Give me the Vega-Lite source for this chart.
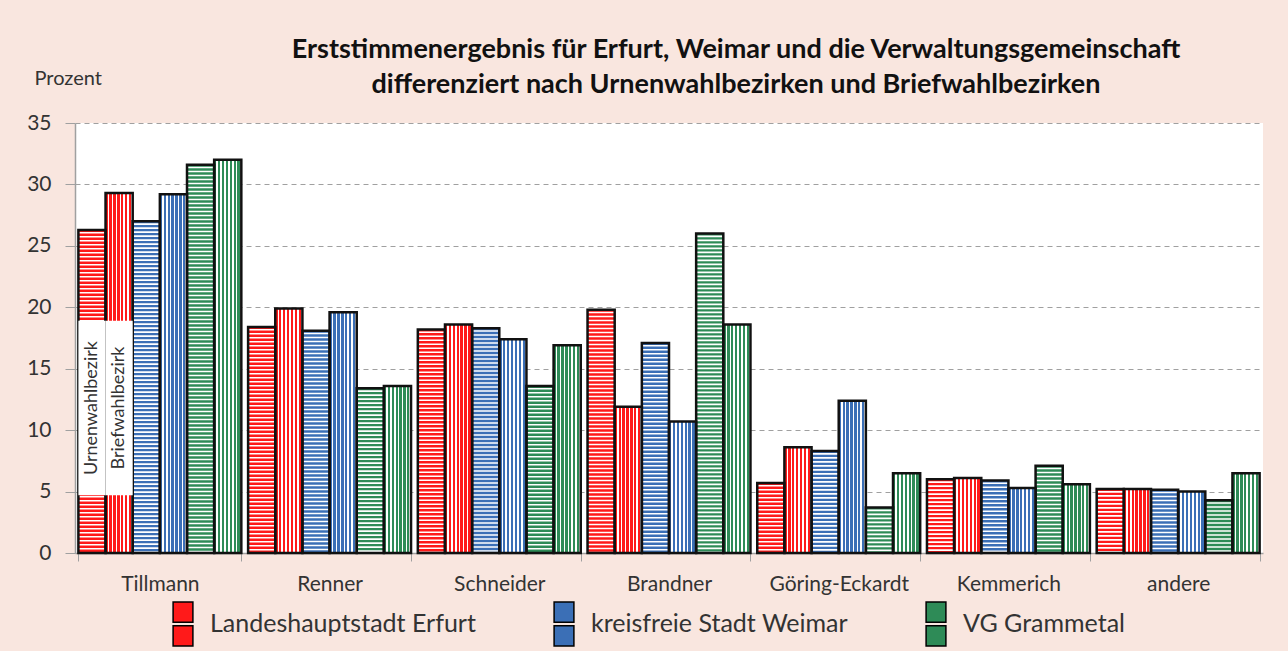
{
  "$schema": "https://vega.github.io/schema/vega-lite/v6.json",
  "width": 1188,
  "height": 430,
  "autosize": {"type": "none"},
  "padding": {"left": 75, "top": 123, "right": 25, "bottom": 98},
  "background": "#f9e6df",
  "config": {
    "font": "Lato",
    "view": {"fill": "white", "stroke": null},
    "axis": {"labelFont": "Lato", "titleFont": "Lato", "labelColor": "#333333", "titleColor": "#333333"}
  },
  "title": {
    "text": ["Erststimmenergebnis für Erfurt, Weimar und die Verwaltungsgemeinschaft", "differenziert nach Urnenwahlbezirken und Briefwahlbezirken"],
    "font": "Lato",
    "fontSize": 27,
    "fontWeight": "bold",
    "color": "#111111",
    "anchor": "middle",
    "dx": 67,
    "lineHeight": 35,
    "offset": -31
  },
  "datasets": {
    "werte": [
      {"kandidat": "Tillmann", "gebiet": "Landeshauptstadt Erfurt", "art": "Urne", "reihe": "Erfurt Urne", "wert": 26.3},
      {"kandidat": "Tillmann", "gebiet": "Landeshauptstadt Erfurt", "art": "Brief", "reihe": "Erfurt Brief", "wert": 29.3},
      {"kandidat": "Tillmann", "gebiet": "kreisfreie Stadt Weimar", "art": "Urne", "reihe": "Weimar Urne", "wert": 27.0},
      {"kandidat": "Tillmann", "gebiet": "kreisfreie Stadt Weimar", "art": "Brief", "reihe": "Weimar Brief", "wert": 29.2},
      {"kandidat": "Tillmann", "gebiet": "VG Grammetal", "art": "Urne", "reihe": "VG Urne", "wert": 31.6},
      {"kandidat": "Tillmann", "gebiet": "VG Grammetal", "art": "Brief", "reihe": "VG Brief", "wert": 32.0},
      {"kandidat": "Renner", "gebiet": "Landeshauptstadt Erfurt", "art": "Urne", "reihe": "Erfurt Urne", "wert": 18.4},
      {"kandidat": "Renner", "gebiet": "Landeshauptstadt Erfurt", "art": "Brief", "reihe": "Erfurt Brief", "wert": 19.9},
      {"kandidat": "Renner", "gebiet": "kreisfreie Stadt Weimar", "art": "Urne", "reihe": "Weimar Urne", "wert": 18.1},
      {"kandidat": "Renner", "gebiet": "kreisfreie Stadt Weimar", "art": "Brief", "reihe": "Weimar Brief", "wert": 19.6},
      {"kandidat": "Renner", "gebiet": "VG Grammetal", "art": "Urne", "reihe": "VG Urne", "wert": 13.4},
      {"kandidat": "Renner", "gebiet": "VG Grammetal", "art": "Brief", "reihe": "VG Brief", "wert": 13.6},
      {"kandidat": "Schneider", "gebiet": "Landeshauptstadt Erfurt", "art": "Urne", "reihe": "Erfurt Urne", "wert": 18.2},
      {"kandidat": "Schneider", "gebiet": "Landeshauptstadt Erfurt", "art": "Brief", "reihe": "Erfurt Brief", "wert": 18.6},
      {"kandidat": "Schneider", "gebiet": "kreisfreie Stadt Weimar", "art": "Urne", "reihe": "Weimar Urne", "wert": 18.3},
      {"kandidat": "Schneider", "gebiet": "kreisfreie Stadt Weimar", "art": "Brief", "reihe": "Weimar Brief", "wert": 17.4},
      {"kandidat": "Schneider", "gebiet": "VG Grammetal", "art": "Urne", "reihe": "VG Urne", "wert": 13.6},
      {"kandidat": "Schneider", "gebiet": "VG Grammetal", "art": "Brief", "reihe": "VG Brief", "wert": 16.9},
      {"kandidat": "Brandner", "gebiet": "Landeshauptstadt Erfurt", "art": "Urne", "reihe": "Erfurt Urne", "wert": 19.8},
      {"kandidat": "Brandner", "gebiet": "Landeshauptstadt Erfurt", "art": "Brief", "reihe": "Erfurt Brief", "wert": 11.9},
      {"kandidat": "Brandner", "gebiet": "kreisfreie Stadt Weimar", "art": "Urne", "reihe": "Weimar Urne", "wert": 17.1},
      {"kandidat": "Brandner", "gebiet": "kreisfreie Stadt Weimar", "art": "Brief", "reihe": "Weimar Brief", "wert": 10.7},
      {"kandidat": "Brandner", "gebiet": "VG Grammetal", "art": "Urne", "reihe": "VG Urne", "wert": 26.0},
      {"kandidat": "Brandner", "gebiet": "VG Grammetal", "art": "Brief", "reihe": "VG Brief", "wert": 18.6},
      {"kandidat": "Göring-Eckardt", "gebiet": "Landeshauptstadt Erfurt", "art": "Urne", "reihe": "Erfurt Urne", "wert": 5.7},
      {"kandidat": "Göring-Eckardt", "gebiet": "Landeshauptstadt Erfurt", "art": "Brief", "reihe": "Erfurt Brief", "wert": 8.6},
      {"kandidat": "Göring-Eckardt", "gebiet": "kreisfreie Stadt Weimar", "art": "Urne", "reihe": "Weimar Urne", "wert": 8.3},
      {"kandidat": "Göring-Eckardt", "gebiet": "kreisfreie Stadt Weimar", "art": "Brief", "reihe": "Weimar Brief", "wert": 12.4},
      {"kandidat": "Göring-Eckardt", "gebiet": "VG Grammetal", "art": "Urne", "reihe": "VG Urne", "wert": 3.7},
      {"kandidat": "Göring-Eckardt", "gebiet": "VG Grammetal", "art": "Brief", "reihe": "VG Brief", "wert": 6.5},
      {"kandidat": "Kemmerich", "gebiet": "Landeshauptstadt Erfurt", "art": "Urne", "reihe": "Erfurt Urne", "wert": 6.0},
      {"kandidat": "Kemmerich", "gebiet": "Landeshauptstadt Erfurt", "art": "Brief", "reihe": "Erfurt Brief", "wert": 6.1},
      {"kandidat": "Kemmerich", "gebiet": "kreisfreie Stadt Weimar", "art": "Urne", "reihe": "Weimar Urne", "wert": 5.9},
      {"kandidat": "Kemmerich", "gebiet": "kreisfreie Stadt Weimar", "art": "Brief", "reihe": "Weimar Brief", "wert": 5.3},
      {"kandidat": "Kemmerich", "gebiet": "VG Grammetal", "art": "Urne", "reihe": "VG Urne", "wert": 7.1},
      {"kandidat": "Kemmerich", "gebiet": "VG Grammetal", "art": "Brief", "reihe": "VG Brief", "wert": 5.6},
      {"kandidat": "andere", "gebiet": "Landeshauptstadt Erfurt", "art": "Urne", "reihe": "Erfurt Urne", "wert": 5.2},
      {"kandidat": "andere", "gebiet": "Landeshauptstadt Erfurt", "art": "Brief", "reihe": "Erfurt Brief", "wert": 5.2},
      {"kandidat": "andere", "gebiet": "kreisfreie Stadt Weimar", "art": "Urne", "reihe": "Weimar Urne", "wert": 5.15},
      {"kandidat": "andere", "gebiet": "kreisfreie Stadt Weimar", "art": "Brief", "reihe": "Weimar Brief", "wert": 5.0},
      {"kandidat": "andere", "gebiet": "VG Grammetal", "art": "Urne", "reihe": "VG Urne", "wert": 4.3},
      {"kandidat": "andere", "gebiet": "VG Grammetal", "art": "Brief", "reihe": "VG Brief", "wert": 6.5}
    ],
    "hinweise": [
      {"kandidat": "Tillmann", "reihe": "Erfurt Urne", "text": "Urnenwahlbezirk", "von": 4.7, "bis": 18.9, "mitte": 11.8},
      {"kandidat": "Tillmann", "reihe": "Erfurt Brief", "text": "Briefwahlbezirk", "von": 4.7, "bis": 18.9, "mitte": 11.8}
    ]
  },
  "data": {"name": "werte"},
  "encoding": {
    "x": {
      "field": "kandidat",
      "type": "nominal",
      "sort": ["Tillmann", "Renner", "Schneider", "Brandner", "Göring-Eckardt", "Kemmerich", "andere"],
      "scale": {"paddingInner": 0.04, "paddingOuter": 0.02},
      "axis": {
        "title": null,
        "labelAngle": 0,
        "labelFontSize": 21,
        "labelPadding": 12,
        "tickBand": "extent",
        "tickSize": 8,
        "tickColor": "#a0a0a0",
        "domainColor": "#a0a0a0",
        "domainWidth": 1.5
      }
    },
    "xOffset": {
      "field": "reihe",
      "type": "nominal",
      "scale": {"domain": ["Erfurt Urne", "Erfurt Brief", "Weimar Urne", "Weimar Brief", "VG Urne", "VG Brief"], "paddingInner": 0, "paddingOuter": 0}
    }
  },
  "layer": [
    {
      "mark": {"type": "bar", "strokeWidth": 0},
      "encoding": {
        "y": {
          "field": "wert",
          "type": "quantitative",
          "scale": {"domain": [0, 35], "nice": false},
          "axis": {
            "title": "Prozent",
            "titleAngle": 0,
            "titleAlign": "left",
            "titleBaseline": "middle",
            "titleX": -41,
            "titleY": -45,
            "titleFontSize": 20,
            "titleFontWeight": "normal",
            "tickCount": 7,
            "labelFontSize": 21,
            "labelPadding": 14,
            "tickSize": 10,
            "tickColor": "#a0a0a0",
            "domainColor": "#a0a0a0",
            "domainWidth": 1.5,
            "gridColor": "#a0a0a0",
            "gridDash": [5, 4],
            "gridWidth": 1
          }
        },
        "fill": {
          "field": "gebiet",
          "type": "nominal",
          "scale": {"domain": ["Landeshauptstadt Erfurt", "kreisfreie Stadt Weimar", "VG Grammetal"], "range": ["#ff1a1a", "#3b6fb6", "#2e8b57"]},
          "legend": {
            "title": null,
            "orient": "none",
            "legendX": 85,
            "legendY": 478,
            "direction": "horizontal",
            "columns": 3,
            "columnPadding": 65,
            "symbolType": "M-0.45,-1H0.45V-0.08H-0.45Z M-0.45,0.08H0.45V1H-0.45Z",
            "symbolSize": 1936,
            "symbolStrokeColor": "#000000",
            "symbolStrokeWidth": 1.5,
            "symbolOpacity": 1,
            "labelFont": "Lato",
            "labelFontSize": 25,
            "labelColor": "#333333",
            "labelOffset": 4,
            "labelLimit": 400
          }
        }
      }
    },
    {
      "transform": [{"filter": "datum.art === 'Urne'"}],
      "mark": {"type": "rule", "stroke": "white", "strokeWidth": 26, "strokeDash": [1.6, 2.4], "strokeDashOffset": 2, "strokeCap": "butt"},
      "encoding": {
        "y": {"field": "wert", "type": "quantitative"},
        "y2": {"datum": 0}
      }
    },
    {
      "transform": [{"filter": "datum.art === 'Brief'"}],
      "mark": {
        "type": "bar",
        "strokeWidth": 0,
        "fill": {"gradient": "linear", "x1": 0, "y1": 0, "x2": 1, "y2": 0, "stops": [
          {"offset": 0, "color": "rgba(255,255,255,0)"}, {"offset": 0.0857, "color": "rgba(255,255,255,0)"}, {"offset": 0.0857, "color": "#ffffff"}, {"offset": 0.1429, "color": "#ffffff"},
          {"offset": 0.1429, "color": "rgba(255,255,255,0)"}, {"offset": 0.2286, "color": "rgba(255,255,255,0)"}, {"offset": 0.2286, "color": "#ffffff"}, {"offset": 0.2857, "color": "#ffffff"},
          {"offset": 0.2857, "color": "rgba(255,255,255,0)"}, {"offset": 0.3714, "color": "rgba(255,255,255,0)"}, {"offset": 0.3714, "color": "#ffffff"}, {"offset": 0.4286, "color": "#ffffff"},
          {"offset": 0.4286, "color": "rgba(255,255,255,0)"}, {"offset": 0.5143, "color": "rgba(255,255,255,0)"}, {"offset": 0.5143, "color": "#ffffff"}, {"offset": 0.5714, "color": "#ffffff"},
          {"offset": 0.5714, "color": "rgba(255,255,255,0)"}, {"offset": 0.6571, "color": "rgba(255,255,255,0)"}, {"offset": 0.6571, "color": "#ffffff"}, {"offset": 0.7143, "color": "#ffffff"},
          {"offset": 0.7143, "color": "rgba(255,255,255,0)"}, {"offset": 0.8, "color": "rgba(255,255,255,0)"}, {"offset": 0.8, "color": "#ffffff"}, {"offset": 0.8571, "color": "#ffffff"},
          {"offset": 0.8571, "color": "rgba(255,255,255,0)"}, {"offset": 0.9429, "color": "rgba(255,255,255,0)"}, {"offset": 0.9429, "color": "#ffffff"}, {"offset": 1, "color": "#ffffff"}
        ]}
      },
      "encoding": {
        "y": {"field": "wert", "type": "quantitative"}
      }
    },
    {
      "mark": {"type": "bar", "fill": "white", "fillOpacity": 0, "stroke": "#111111", "strokeWidth": 2.5},
      "encoding": {
        "y": {"field": "wert", "type": "quantitative"}
      }
    },
    {
      "data": {"name": "hinweise"},
      "mark": {"type": "bar", "fill": "white", "strokeWidth": 0},
      "encoding": {
        "y": {"field": "von", "type": "quantitative"},
        "y2": {"field": "bis"}
      }
    },
    {
      "data": {"name": "hinweise"},
      "mark": {"type": "text", "angle": 270, "font": "Lato", "fontSize": 18, "color": "#333333", "align": "center", "baseline": "middle"},
      "encoding": {
        "y": {"field": "mitte", "type": "quantitative"},
        "text": {"field": "text"}
      }
    }
  ]
}
